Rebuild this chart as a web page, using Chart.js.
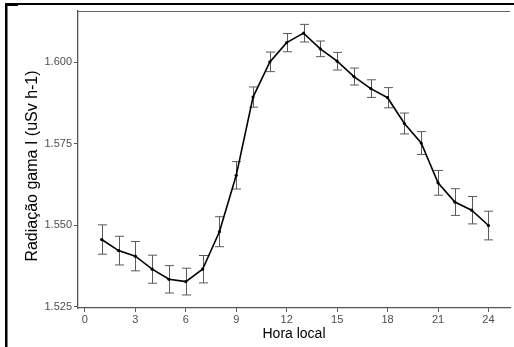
<!DOCTYPE html>
<html>
<head>
<meta charset="utf-8">
<script src="https://cdn.jsdelivr.net/npm/chart.js@4"></script>
<style>
  html, body { margin: 0; padding: 0; background: #fff; }
  #wrap { position: relative; width: 514px; height: 347px; }
</style>
</head>
<body>
<div id="wrap"><canvas id="radChart" width="514" height="347"></canvas></div>
<script>
// hourly means and standard errors
const hours = [1, 2, 3, 4, 5, 6, 7, 8, 9, 10, 11, 12, 13, 14, 15, 16, 17, 18, 19, 20, 21, 22, 23, 24];
const meanDose = [1.5456, 1.5422, 1.5405, 1.5365, 1.5334, 1.5327, 1.5365, 1.5480, 1.5653, 1.5893, 1.6001, 1.6060,
                  1.6089, 1.6041, 1.6003, 1.5956, 1.5919, 1.5891, 1.5812, 1.5752, 1.5630, 1.5571, 1.5546, 1.5499];
const errDose = [0.0045, 0.0044, 0.0045, 0.0043, 0.0042, 0.0041, 0.0042, 0.0046, 0.0042, 0.0031, 0.0030, 0.0028,
                 0.0027, 0.0024, 0.0027, 0.0026, 0.0027, 0.0031, 0.0032, 0.0035, 0.0038, 0.0041, 0.0042, 0.0044];
const xTicks = [0, 3, 6, 9, 12, 15, 18, 21, 24];
const yTicks = [1.525, 1.550, 1.575, 1.600];
const xTitle = 'Hora local';
const yTitle = 'Radiação gama I (uSv h-1)';

const FONT = '"Liberation Sans", Arial, sans-serif';
const AXIS_GREY = '#555555';
const TICK_GREY = '#4d4d4d';

const errorBars = {
    id: 'errorBars',
    beforeDatasetsDraw(chart) {
        const { ctx, scales: { x, y } } = chart;
        ctx.save();
        ctx.strokeStyle = '#5a5a5a';
        ctx.lineWidth = 1;
        hours.forEach((h, i) => {
            const px = Math.round(x.getPixelForValue(h)) + 0.5;
            const top = y.getPixelForValue(meanDose[i] + errDose[i]);
            const bot = y.getPixelForValue(meanDose[i] - errDose[i]);
            ctx.beginPath();
            ctx.moveTo(px, top); ctx.lineTo(px, bot);
            ctx.moveTo(px - 4.5, top); ctx.lineTo(px + 4.5, top);
            ctx.moveTo(px - 4.5, bot); ctx.lineTo(px + 4.5, bot);
            ctx.stroke();
        });
        ctx.restore();
    }
};

const frameAndTitles = {
    id: 'frameAndTitles',
    afterDraw(chart) {
        const { ctx, chartArea: a } = chart;
        ctx.save();
        // panel top line
        ctx.strokeStyle = '#666';
        ctx.lineWidth = 1.2;
        ctx.beginPath();
        ctx.moveTo(a.left, a.top + 0.5);
        ctx.lineTo(a.right, a.top + 0.5);
        ctx.stroke();
        // outer black frame (top and left)
        ctx.fillStyle = '#000';
        ctx.fillRect(5, 3, 509, 2);
        ctx.fillRect(5, 3, 13, 3);
        ctx.fillRect(5, 3, 2.5, 344);
        // axis titles
        ctx.fillStyle = '#000';
        ctx.textAlign = 'center';
        ctx.textBaseline = 'middle';
        ctx.font = '14px ' + FONT;
        ctx.fillText(xTitle, (a.left + a.right) / 2, 334);
        ctx.translate(33, 166);
        ctx.rotate(-Math.PI / 2);
        ctx.font = '16px ' + FONT;
        ctx.fillText(yTitle, 0, 0);
        ctx.restore();
    }
};

new Chart(document.getElementById('radChart'), {
    type: 'line',
    data: {
        datasets: [{
            data: hours.map((h, i) => ({ x: h, y: meanDose[i] })),
            borderColor: '#000',
            borderWidth: 1.6,
            pointRadius: 1.6,
            pointBackgroundColor: '#000',
            pointBorderWidth: 0,
            tension: 0
        }]
    },
    options: {
        responsive: false,
        animation: false,
        layout: { padding: { top: 11, right: 0, left: 0, bottom: 0 } },
        plugins: { legend: { display: false }, tooltip: { enabled: false } },
        scales: {
            x: {
                type: 'linear',
                min: -0.41,
                max: 25.28,
                afterFit: s => { s.height = 39; },
                afterBuildTicks: s => { s.ticks = xTicks.map(v => ({ value: v })); },
                border: { display: true, color: AXIS_GREY, width: 1.3 },
                grid: { drawOnChartArea: false, drawTicks: true, tickLength: 4, color: AXIS_GREY },
                ticks: { color: TICK_GREY, font: { family: FONT, size: 11 }, padding: 1, maxRotation: 0 }
            },
            y: {
                type: 'linear',
                min: 1.5246,
                max: 1.6157,
                afterFit: s => { s.width = 78; },
                afterBuildTicks: s => { s.ticks = yTicks.map(v => ({ value: v })); },
                border: { display: true, color: AXIS_GREY, width: 1.3 },
                grid: { drawOnChartArea: false, drawTicks: true, tickLength: 4, color: AXIS_GREY },
                ticks: {
                    color: TICK_GREY,
                    font: { family: FONT, size: 11 },
                    padding: 2,
                    callback: v => v.toFixed(3)
                }
            }
        }
    },
    plugins: [errorBars, frameAndTitles]
});
</script>
</body>
</html>
